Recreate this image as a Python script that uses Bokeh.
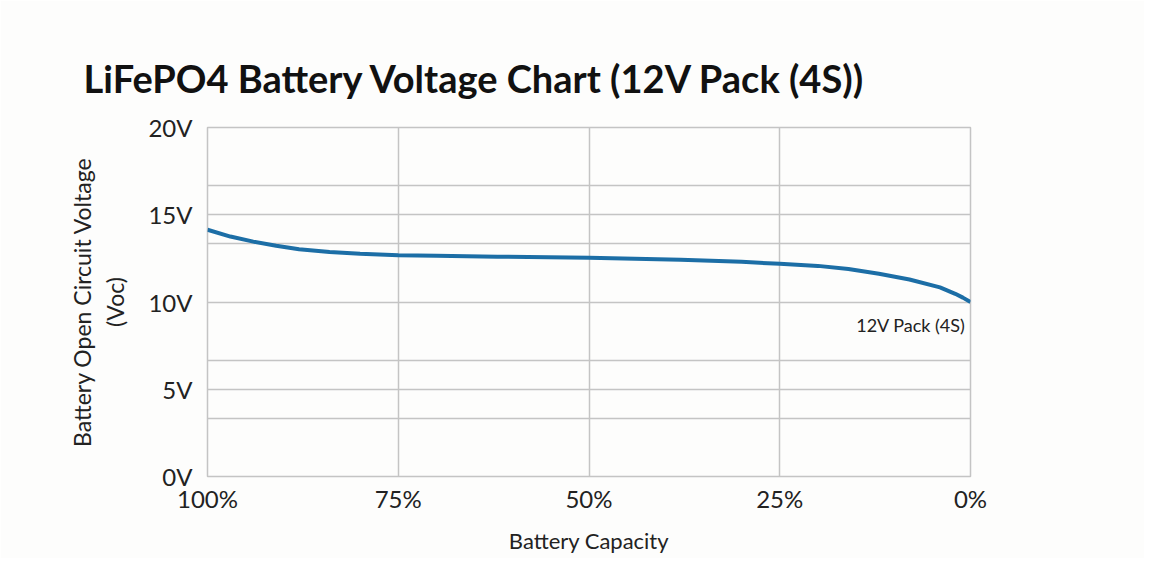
from bokeh.plotting import figure
from bokeh.models import Range1d, FixedTicker, Label, CustomJSTickFormatter
from bokeh.embed import file_html
from bokeh.resources import INLINE

# Data
capacity_pct = [100, 97, 94, 91, 88, 84, 80, 75, 70, 62, 50, 38, 30, 25, 20, 16, 12, 8, 4, 2, 1, 0]
voltage_v = [14.14, 13.75, 13.46, 13.22, 13.02, 12.86, 12.76, 12.68, 12.65, 12.6, 12.53, 12.42,
             12.3, 12.19, 12.07, 11.89, 11.62, 11.29, 10.84, 10.47, 10.25, 10.0]
x_ticks = [100, 75, 50, 25, 0]
y_ticks = [0, 5, 10, 15, 20]
y_grid_lines = [0, 10/3, 5, 20/3, 10, 40/3, 15, 50/3, 20]
series_name = "12V Pack (4S)"

FONT = "Lato"
GRID = "#c4c4c4"
TEXT = "#222222"

p = figure(width=1144, height=558, output_backend="svg", toolbar_location=None,
           x_range=Range1d(100, 0), y_range=Range1d(0, 20),
           min_border_left=207, min_border_right=174, min_border_top=127, min_border_bottom=82,
           background_fill_color="#fdfdfc", border_fill_color="#fdfdfc")

p.title.text = "LiFePO4 Battery Voltage Chart (12V Pack (4S))"
p.title.text_font = FONT
p.title.text_font_style = "bold"
p.title.text_font_size = "38px"
p.title.text_color = "#111111"
p.title.align = "left"
p.title.offset = -124
p.title.standoff = 53

p.outline_line_color = GRID
p.outline_line_width = 1.5

p.xgrid.ticker = FixedTicker(ticks=x_ticks)
p.xgrid.grid_line_color = GRID
p.xgrid.grid_line_width = 1.5
p.ygrid.ticker = FixedTicker(ticks=y_grid_lines)
p.ygrid.grid_line_color = GRID
p.ygrid.grid_line_width = 1.5

p.xaxis.ticker = FixedTicker(ticks=x_ticks)
p.xaxis.formatter = CustomJSTickFormatter(code="return tick + '%';")
p.yaxis.ticker = FixedTicker(ticks=y_ticks)
p.yaxis.formatter = CustomJSTickFormatter(code="return tick + 'V';")

for ax in (p.xaxis, p.yaxis):
    ax.axis_line_color = None
    ax.major_tick_line_color = None
    ax.minor_tick_line_color = None
    ax.major_label_text_font = FONT
    ax.major_label_text_font_size = "24px"
    ax.major_label_text_color = TEXT
    ax.axis_label_text_font = FONT
    ax.axis_label_text_font_style = "normal"
    ax.axis_label_text_font_size = "22px"
    ax.axis_label_text_color = TEXT

p.yaxis.axis_label_text_font_size = "23px"
p.xaxis.major_label_standoff = 1
p.yaxis.major_label_standoff = 9
p.xaxis.axis_label = "Battery Capacity"
p.xaxis.axis_label_standoff = 11
p.yaxis.axis_label = "Battery Open Circuit Voltage\n(Voc)"
p.yaxis.axis_label_standoff = 16

p.line(capacity_pct, voltage_v, line_color="#1c6ea6", line_width=4)

p.add_layout(Label(x=capacity_pct[-1], y=voltage_v[-1], text=series_name,
                   x_offset=-5, y_offset=-12, text_align="right", text_baseline="top",
                   text_font=FONT, text_font_size="18px", text_color=TEXT))

open("out.html", "w").write(file_html(p, INLINE))
